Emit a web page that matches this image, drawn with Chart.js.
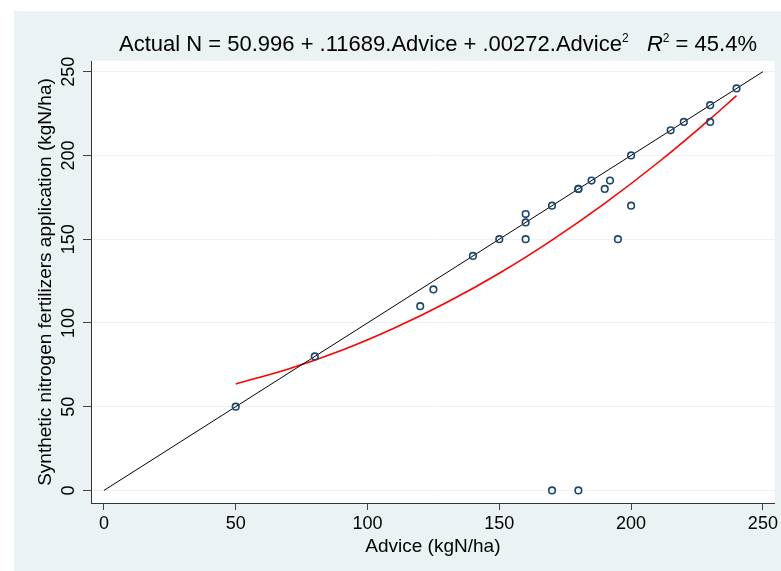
<!DOCTYPE html>
<html>
<head>
<meta charset="utf-8">
<script src="https://cdn.jsdelivr.net/npm/chart.js@4.4.1/dist/chart.umd.min.js"></script>
<style>
html, body { margin: 0; padding: 0; background: #fff; }
</style>
</head>
<body>
<canvas id="myChart" width="781" height="571"></canvas>
<script>
// data ---------------------------------------------------------------------
const advice = [50, 80, 120, 125, 140, 150, 160, 160, 160, 170, 180, 180, 185, 190, 192, 195, 200, 200, 215, 220, 230, 230, 240, 170, 180];
const actual = [50, 80, 110, 120, 140, 150, 150, 160, 165, 170, 180, 180, 185, 180, 185, 150, 200, 170, 215, 220, 230, 220, 240, 0, 0];

// fitted quadratic (red curve), read at a few points
const fitAdvice = [50, 70, 90, 110, 130, 150, 170, 190, 210, 230, 240];
const fitActual = [63.6, 72.5, 83.5, 96.8, 112.2, 129.7, 149.5, 171.4, 195.5, 221.8, 235.7];

// 45 degree reference line
const refAdvice = [0, 250];
const refActual = [0, 250];

const xTicks = [0, 50, 100, 150, 200, 250];
const yTicks = [0, 50, 100, 150, 200, 250];

const bgColor = '#eaf2f3';
const fontName = '"Liberation Sans", Arial, sans-serif';

function toPoints(xs, ys) {
  return xs.map((x, i) => ({ x: x, y: ys[i] }));
}

// background: light frame, white plot region
const background = {
  id: 'background',
  beforeDraw(chart) {
    const ctx = chart.ctx;
    const a = chart.chartArea;
    ctx.save();
    ctx.fillStyle = '#fff';
    ctx.fillRect(0, 0, chart.width, chart.height);
    ctx.fillStyle = bgColor;
    ctx.fillRect(14, 11, chart.width - 14, chart.height - 11);
    ctx.fillStyle = '#fff';
    ctx.fillRect(a.left, a.top, a.right - a.left, a.bottom - a.top);
    ctx.restore();
  }
};

// title with superscripts and italic R
const titleParts = [
  { text: 'Actual N = 50.996 + .11689.Advice + .00272.Advice', size: 22 },
  { text: '2', size: 12, rise: 9 },
  { text: '   ', size: 22 },
  { text: 'R', size: 22, italic: true },
  { text: '2', size: 12, rise: 9 },
  { text: ' = 45.4%', size: 22 }
];

const titlePlugin = {
  id: 'eqTitle',
  afterDraw(chart) {
    const ctx = chart.ctx;
    ctx.save();
    ctx.fillStyle = '#000';
    ctx.textBaseline = 'alphabetic';
    ctx.textAlign = 'left';
    let total = 0;
    titleParts.forEach(p => {
      ctx.font = (p.italic ? 'italic ' : '') + p.size + 'px ' + fontName;
      p.w = ctx.measureText(p.text).width;
      total += p.w;
    });
    let x = 438 - total / 2;
    const base = 51;
    titleParts.forEach(p => {
      ctx.font = (p.italic ? 'italic ' : '') + p.size + 'px ' + fontName;
      ctx.fillText(p.text, x, base - (p.rise || 0));
      x += p.w;
    });
    ctx.restore();
  }
};

// vertical y tick labels (Stata style)
const yLabels = {
  id: 'yLabels',
  afterDraw(chart) {
    const ctx = chart.ctx;
    const scale = chart.scales.y;
    ctx.save();
    ctx.fillStyle = '#000';
    ctx.font = '18px ' + fontName;
    ctx.textAlign = 'center';
    ctx.textBaseline = 'alphabetic';
    yTicks.forEach(v => {
      const y = scale.getPixelForValue(v);
      ctx.save();
      ctx.translate(74, y);
      ctx.rotate(-Math.PI / 2);
      ctx.fillText(String(v), 0, 0);
      ctx.restore();
    });
    ctx.restore();
  }
};

const ctx = document.getElementById('myChart').getContext('2d');
const myChart = new Chart(ctx, {
  type: 'scatter',
  data: {
    datasets: [
      {
        data: toPoints(advice, actual),
        pointStyle: 'circle',
        pointRadius: 3.3,
        pointBorderWidth: 1.6,
        borderColor: '#1a476f',
        backgroundColor: 'rgba(0,0,0,0)',
        order: 0
      },
      {
        data: toPoints(refAdvice, refActual),
        showLine: true,
        borderColor: '#000',
        borderWidth: 1,
        pointRadius: 0,
        order: 1
      },
      {
        data: toPoints(fitAdvice, fitActual),
        showLine: true,
        borderColor: '#ff0000',
        borderWidth: 1.6,
        pointRadius: 0,
        tension: 0.4,
        order: 2
      }
    ]
  },
  options: {
    responsive: false,
    animation: false,
    devicePixelRatio: 1,
    layout: { padding: { left: 0, top: 61, right: 5, bottom: 0 } },
    plugins: {
      legend: { display: false },
      tooltip: { enabled: false }
    },
    scales: {
      x: {
        type: 'linear',
        min: -4.9,
        max: 254.5,
        afterBuildTicks: s => { s.ticks = xTicks.map(v => ({ value: v })); },
        afterFit: s => { s.height = 68; },
        ticks: { font: { family: fontName, size: 18 }, color: '#000', padding: 3, maxRotation: 0, autoSkip: false },
        grid: { drawOnChartArea: false, tickLength: 7, tickColor: '#444' },
        border: { color: '#333' },
        title: {
          display: true,
          text: 'Advice (kgN/ha)',
          color: '#000',
          font: { family: fontName, size: 19 },
          padding: { top: 0, bottom: 13 }
        }
      },
      y: {
        type: 'linear',
        min: -7.5,
        max: 256.4,
        afterBuildTicks: s => { s.ticks = yTicks.map(v => ({ value: v })); },
        afterFit: s => { s.width = 91; },
        ticks: { display: false },
        grid: { color: bgColor, tickLength: 8, tickColor: '#444' },
        border: { color: '#333' },
        title: {
          display: true,
          text: 'Synthetic nitrogen fertilizers application (kgN/ha)',
          color: '#000',
          font: { family: fontName, size: 19 },
          padding: { top: 34, bottom: 0 }
        }
      }
    }
  },
  plugins: [background, titlePlugin, yLabels]
});
</script>
</body>
</html>
